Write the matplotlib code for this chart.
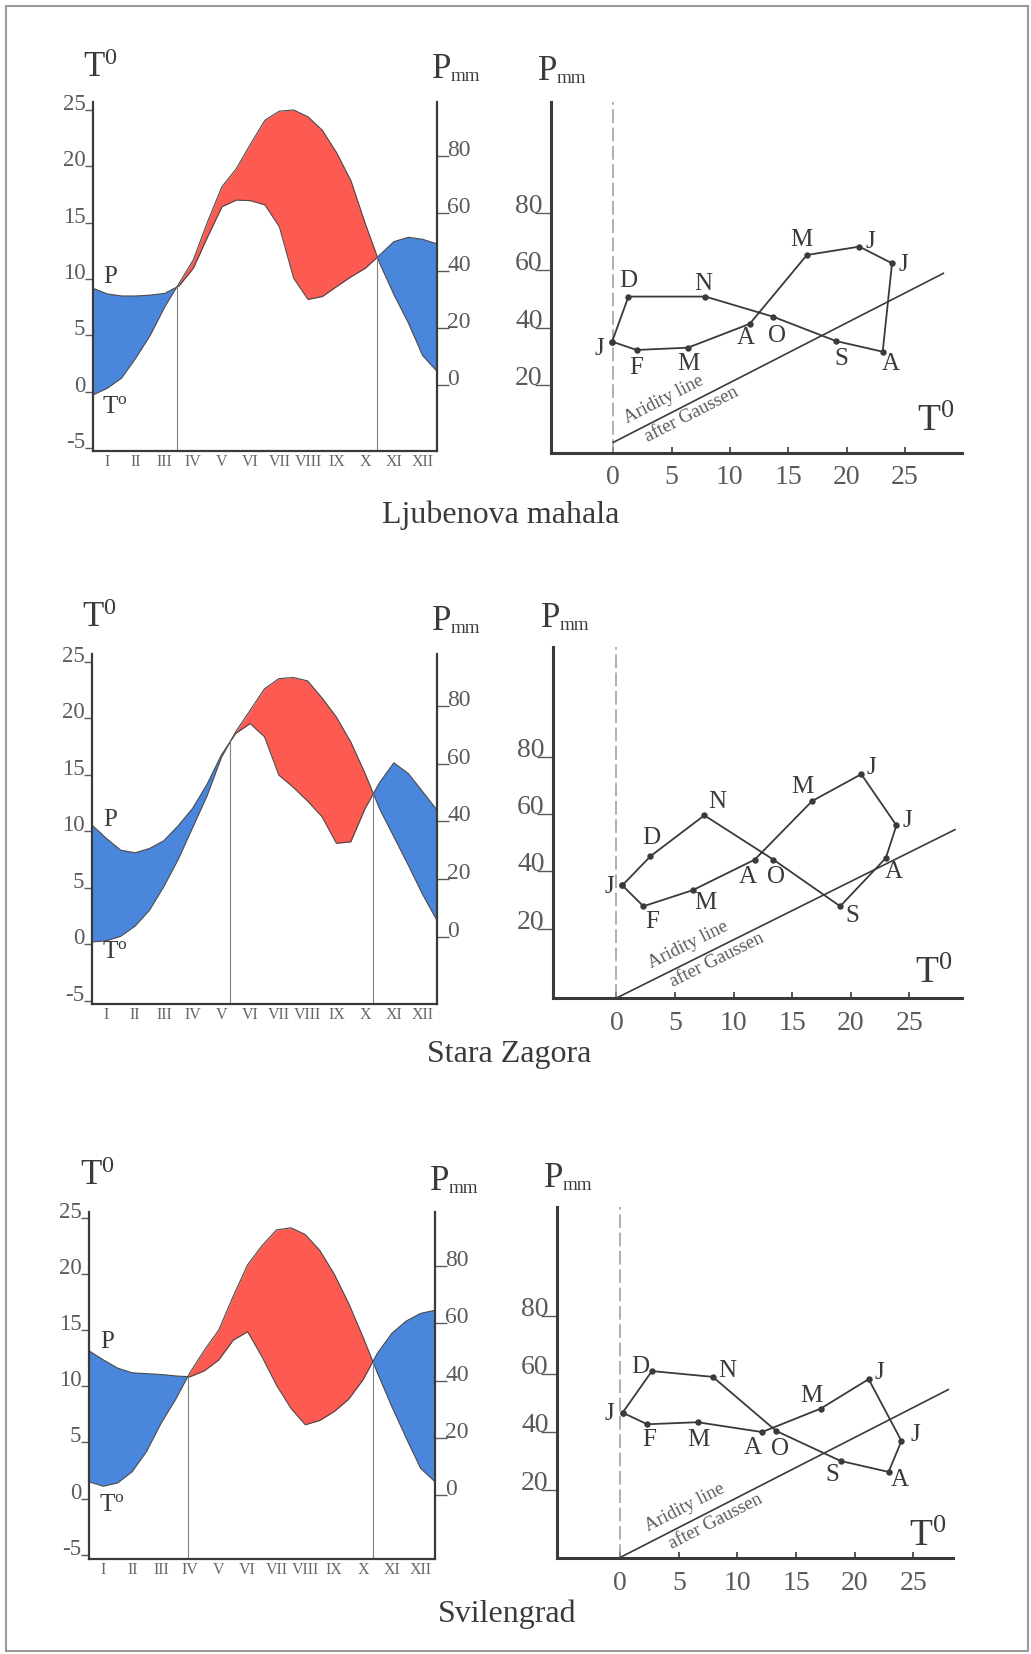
import math
import matplotlib
matplotlib.use('Agg')
import matplotlib.pyplot as plt
from matplotlib.patches import Rectangle
import numpy as np

W, H = 1031, 1654

plt.rcParams['font.family'] = ['Liberation Serif', 'DejaVu Serif']
plt.rcParams['mathtext.fontset'] = 'custom'
plt.rcParams['mathtext.rm'] = 'Liberation Serif'
plt.rcParams['mathtext.it'] = 'Liberation Serif:italic'
plt.rcParams['mathtext.bf'] = 'Liberation Serif:bold'
plt.rcParams['mathtext.default'] = 'rm'
plt.rcParams['axes.unicode_minus'] = False

INK = '#3a3a3a'
GREY = '#5a5a5a'
RED = '#fd5a52'
BLUE = '#4a86dc'

ROMAN = ['I', 'II', 'III', 'IV', 'V', 'VI', 'VII', 'VIII', 'IX', 'X', 'XI', 'XII']
MONTH_LETTERS = ['J', 'F', 'M', 'A', 'M', 'J', 'J', 'A', 'S', 'O', 'N', 'D']

CURVE_X = [0.5, 1.0, 1.5, 2.0, 2.5, 3.0, 3.5, 4.0, 4.5, 5.0, 5.5, 6.0, 6.5,
           7.0, 7.5, 8.0, 8.5, 9.0, 9.5, 10.0, 10.5, 11.0, 11.5, 12.0, 12.5]

# Ljubenova mahala
LJ_T = [-0.3, 0.3, 1.2, 3.0, 5.0, 7.5, 9.6, 11.7, 15.1, 18.2, 19.8, 22.0, 24.1,
        24.9, 25.0, 24.4, 23.2, 21.2, 18.7, 14.9, 11.4, 8.6, 6.1, 3.2, 1.8]
LJ_P = [33.8, 31.8, 31.1, 31.1, 31.4, 32.0, 34.6, 40.8, 51.8, 62.3, 64.6, 64.4, 62.9,
        55.3, 37.3, 29.9, 30.9, 34.4, 37.8, 40.8, 45.4, 50.1, 51.6, 50.9, 49.3]
LJ_CLIM_T = [-0.1, 2.0, 6.4, 11.7, 16.6, 21.1, 23.9, 23.1, 19.1, 13.7, 7.9, 1.3]
LJ_CLIM_P = [35.1, 32.2, 33.0, 41.3, 65.3, 68.2, 62.4, 31.6, 35.3, 43.8, 50.8, 50.8]
LJ_ARID_T = [0, 28.3]
LJ_ARID_P = [0, 58.9]

# Stara Zagora
SZ_T = [0.2, 0.3, 0.7, 1.6, 3.0, 5.1, 7.5, 10.3, 13.1, 16.5, 18.8, 20.7, 22.6,
        23.5, 23.6, 23.3, 21.8, 20.1, 17.9, 15.1, 12.0, 9.5, 7.0, 4.4, 2.1]
SZ_P = [38.7, 34.1, 30.0, 29.1, 30.6, 33.3, 38.5, 44.5, 52.8, 63.0, 70.5, 73.9, 69.3,
        56.0, 51.8, 47.0, 41.6, 32.4, 32.9, 44.5, 53.4, 60.3, 56.6, 50.3, 43.9]
SZ_CLIM_T = [0.5, 2.3, 6.5, 11.8, 16.7, 20.9, 23.9, 23.0, 19.1, 13.4, 7.5, 2.9]
SZ_CLIM_P = [35.1, 27.8, 33.4, 44.1, 64.6, 74.0, 56.1, 44.7, 27.8, 44.1, 59.6, 45.3]
SZ_ARID_T = [0, 28.9]
SZ_ARID_P = [-4.3, 54.6]

# Svilengrad
SV_T = [1.5, 1.1, 1.4, 2.4, 4.2, 6.7, 8.8, 11.2, 13.2, 15.0, 18.0, 20.8, 22.5,
        23.9, 24.1, 23.5, 22.1, 20.0, 17.4, 14.4, 11.2, 8.2, 5.4, 2.7, 1.5]
SV_P = [50.4, 47.2, 44.3, 42.7, 42.4, 42.1, 41.6, 41.3, 43.4, 47.2, 54.1, 57.1, 48.3,
        38.4, 30.3, 24.5, 26.0, 29.1, 33.4, 40.2, 49.5, 56.5, 60.8, 63.5, 64.6]
SV_CLIM_T = [0.2, 2.3, 6.6, 12.1, 17.1, 21.2, 24.0, 22.9, 18.8, 13.3, 7.9, 2.7]
SV_CLIM_P = [46.6, 42.6, 43.3, 39.9, 48.0, 58.2, 36.8, 26.1, 29.9, 40.3, 59.0, 61.0]
SV_ARID_T = [0, 28.0]
SV_ARID_P = [-3.5, 54.6]

STATION_NAMES = ['Ljubenova mahala', 'Stara Zagora', 'Svilengrad']

# layout, all in pixels of the 1031x1654 canvas
PANELS = [
    dict(name=STATION_NAMES[0], T=LJ_T, P=LJ_P, ct=LJ_CLIM_T, cp=LJ_CLIM_P,
         at=LJ_ARID_T, ap=LJ_ARID_P,
         lbox=(93, 102, 437, 451), tlim=(-5.27, 25.71), plim=(-23.06, 98.87),
         rbox=(551, 102, 962, 453), xlim=(-5.34, 29.9), ylim=(-3.7, 118.6),
         offs=[(-13, 7), (0, 18), (0, 16), (-4, 14), (-5, -15), (11, -5),
               (11, 2), (8, 12), (5, 18), (4, 19), (-2, -13), (0, -16)],
         arid_txt=(4.9, 6.3),
         t_head=(100, 77), p_head=(451, 78), rp_head=(557, 80), rt_head=(936, 431),
         p_lab=(110, 277), t_lab=(115, 407), title=(501, 523)),
    dict(name=STATION_NAMES[1], T=SZ_T, P=SZ_P, ct=SZ_CLIM_T, cp=SZ_CLIM_P,
         at=SZ_ARID_T, ap=SZ_ARID_P,
         lbox=(92, 654, 437, 1004), tlim=(-5.29, 25.68), plim=(-23.3, 98.0),
         rbox=(553, 647, 962, 998), xlim=(-5.42, 29.5), ylim=(-4.3, 118.5),
         offs=[(-13, 2), (9, 16), (13, 13), (-7, 17), (-10, -14), (10, -6),
               (11, -4), (8, 14), (12, 10), (3, 17), (13, -13), (1, -18)],
         arid_txt=(6.7, 8.2),
         t_head=(99, 627), p_head=(451, 630), rp_head=(560, 627), rt_head=(934, 983),
         p_lab=(110, 820), t_lab=(115, 952), title=(509, 1062)),
    dict(name=STATION_NAMES[2], T=SV_T, P=SV_P, ct=SV_CLIM_T, cp=SV_CLIM_P,
         at=SV_ARID_T, ap=SV_ARID_P,
         lbox=(89, 1212, 435, 1559), tlim=(-5.37, 25.5), plim=(-22.5, 99.0),
         rbox=(557, 1207, 953, 1558), xlim=(-5.4, 28.4), ylim=(-3.7, 117.8),
         offs=[(-13, 1), (2, 16), (1, 18), (-9, 16), (-9, -13), (11, -6),
               (14, -6), (11, 8), (-8, 14), (4, 18), (14, -6), (-12, -4)],
         arid_txt=(6.1, 7.7),
         t_head=(97, 1185), p_head=(449, 1190), rp_head=(563, 1187), rt_head=(928, 1546),
         p_lab=(107, 1342), t_lab=(112, 1505), title=(507, 1622)),
]

fig = plt.figure(figsize=(W / 100, H / 100), dpi=100)


def box(l, t, r, b):
    return [l / W, 1 - b / H, (r - l) / W, (b - t) / H]


def fpos(x, y):
    return x / W, 1 - y / H


def p_mm(xy, size):
    # big P with a small "mm" sitting just below its baseline
    x, y = xy
    fig.text(*fpos(x, y), 'P', fontsize=size, color=INK, ha='right', va='baseline')
    fig.text(*fpos(x, y + 3), 'mm', fontsize=size * 0.55, color=INK, ha='left', va='baseline')


def crossings(x, a, b):
    d = a - b
    out = []
    for i in range(len(d) - 1):
        if d[i] * d[i + 1] < 0:
            f = d[i] / (d[i] - d[i + 1])
            xc = x[i] + (x[i + 1] - x[i]) * f
            out.append((xc, a[i] + (a[i + 1] - a[i]) * f))
    return out


def draw_regime(pn):
    tlim, plim = pn['tlim'], pn['plim']
    ax = fig.add_axes(box(*pn['lbox']))
    ax.set_xlim(0.5, 12.5)
    ax.set_ylim(*tlim)
    x = np.array(CURVE_X)
    t = np.array(pn['T'])
    # precipitation moved onto the temperature scale through the two axes
    k = (tlim[1] - tlim[0]) / (plim[1] - plim[0])
    p = tlim[0] + (np.array(pn['P']) - plim[0]) * k
    ax.fill_between(x, t, p, where=p >= t, interpolate=True, color=BLUE, lw=0)
    ax.fill_between(x, t, p, where=t >= p, interpolate=True, color=RED, lw=0)
    ax.plot(x, t, color='#4a4a4a', lw=0.8)
    ax.plot(x, p, color='#4a4a4a', lw=0.8)
    for xc, yc in crossings(x, t, p):
        ax.plot([xc, xc], [tlim[0], yc], color='#808080', lw=0.8)

    for s in ['top', 'right']:
        ax.spines[s].set_visible(False)
    for s in ['left', 'bottom']:
        ax.spines[s].set_linewidth(1.6)
        ax.spines[s].set_color(INK)
    ax.set_yticks([-5, 0, 5, 10, 15, 20, 25])
    ax.tick_params(axis='y', length=5.5, width=1, color=GREY, labelsize=16.5,
                   labelcolor=GREY, pad=0)
    for lab in ax.get_yticklabels():
        lab.set_va('baseline')
    ax.set_xticks(range(1, 13))
    ax.set_xticklabels(ROMAN)
    ax.tick_params(axis='x', length=0, labelsize=11.5, labelcolor='#666666', pad=2)

    ax2 = ax.twinx()
    ax2.set_ylim(*plim)
    for s in ['top', 'left', 'bottom']:
        ax2.spines[s].set_visible(False)
    ax2.spines['right'].set_linewidth(1.6)
    ax2.spines['right'].set_color(INK)
    ax2.set_yticks([0, 20, 40, 60, 80])
    ax2.tick_params(axis='y', length=8.5, width=1, color=GREY, labelsize=17,
                    labelcolor=GREY, pad=-1)
    for lab in ax2.get_yticklabels():
        lab.set_va('baseline')

    fig.text(*fpos(*pn['t_head']), r'T$^0$', fontsize=25, color=INK, ha='center', va='baseline')
    p_mm(pn['p_head'], 25)
    fig.text(*fpos(*pn['p_lab']), 'P', fontsize=18, color=INK, ha='center', va='center')
    fig.text(*fpos(*pn['t_lab']), r'T$^{\rm o}$', fontsize=18, color=INK, ha='center', va='center')


def draw_climogram(pn):
    ax = fig.add_axes(box(*pn['rbox']))
    ax.set_xlim(*pn['xlim'])
    ax.set_ylim(*pn['ylim'])
    ax.axvline(0, color='#9a9a9a', lw=1.1, dashes=(9, 3))
    ax.plot(pn['at'], pn['ap'], color=INK, lw=1.2)

    ct = list(pn['ct']) + [pn['ct'][0]]
    cp = list(pn['cp']) + [pn['cp'][0]]
    ax.plot(ct, cp, color=INK, lw=1.3, marker='o', ms=3.6)
    for lab, xv, yv, off in zip(MONTH_LETTERS, pn['ct'], pn['cp'], pn['offs']):
        ax.annotate(lab, (xv, yv), xytext=(off[0] * 0.72, -off[1] * 0.72),
                    textcoords='offset points', ha='center', va='center',
                    fontsize=18, color=INK)

    # labels along the aridity line
    d0 = ax.transData.transform((pn['at'][0], pn['ap'][0]))
    d1 = ax.transData.transform((pn['at'][1], pn['ap'][1]))
    ang = math.atan2(d1[1] - d0[1], d1[0] - d0[0])
    nx, ny = -math.sin(ang), math.cos(ang)
    for txt, tv, dist in [('Aridity line', pn['arid_txt'][0], 11),
                          ('after Gaussen', pn['arid_txt'][1], -8)]:
        pv = np.interp(tv, pn['at'], pn['ap'])
        ax.annotate(txt, (tv, pv), xytext=(nx * dist, ny * dist), textcoords='offset points',
                    rotation=math.degrees(ang), rotation_mode='anchor',
                    ha='center', va='center', fontsize=13.5, color=GREY)

    for s in ['top', 'right']:
        ax.spines[s].set_visible(False)
    for s in ['left', 'bottom']:
        ax.spines[s].set_linewidth(2.2)
        ax.spines[s].set_color(INK)
    ax.set_xticks([0, 5, 10, 15, 20, 25])
    ax.tick_params(axis='x', direction='in', length=4, width=1.2, color=INK,
                   labelsize=20, labelcolor=GREY, pad=9)
    ax.set_yticks([20, 40, 60, 80])
    ax.tick_params(axis='y', direction='out', length=11.5, width=1, color=GREY,
                   labelsize=20, labelcolor=GREY, pad=-5.5)
    for lab in ax.get_yticklabels():
        lab.set_va('baseline')

    p_mm(pn['rp_head'], 25)
    fig.text(*fpos(*pn['rt_head']), r'T$^0$', fontsize=27, color=INK, ha='center', va='baseline')


for pn in PANELS:
    draw_regime(pn)
    draw_climogram(pn)
    fig.text(*fpos(*pn['title']), pn['name'], fontsize=23, color=INK, ha='center', va='baseline')

fig.add_artist(Rectangle(fpos(6, 1651), (1028 - 6) / W, (1651 - 6) / H,
                         transform=fig.transFigure, fill=False, ec='#9a9a9a', lw=1.5))

fig.savefig('out.png', dpi=100)
